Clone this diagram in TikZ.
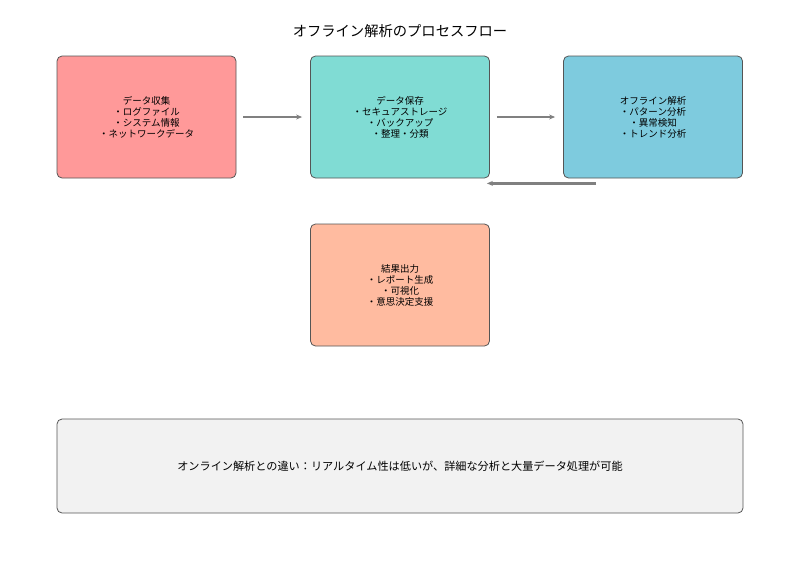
\documentclass[tikz,border=0pt]{standalone}
\usepackage{fontspec}
\setmainfont{Noto Sans CJK JP}
\usetikzlibrary{arrows.meta,calc}
\definecolor{cA}{HTML}{FF9999}
\definecolor{cB}{HTML}{80DCD4}
\definecolor{cC}{HTML}{7ECBDE}
\definecolor{cD}{HTML}{FFBBA0}
\definecolor{cE}{HTML}{F2F2F2}
\definecolor{edge}{HTML}{555555}
\definecolor{arr}{HTML}{808080}
\tikzset{
  stepbox/.style={draw=edge, line width=0.8pt, rounded corners=5pt, minimum width=179pt, minimum height=122pt, align=center, inner sep=0pt, font=\fontsize{9.5pt}{11pt}\selectfont, text=black},
  flow/.style={draw=arr, line width=2.2pt, -{Stealth[length=6pt,width=5pt]}},
}
\begin{document}
\begin{tikzpicture}[x=1pt,y=-1pt]
\useasboundingbox (0,0) rectangle (800,570);
\node (title) at (400,31) {\fontsize{14.3pt}{16pt}\selectfont オフライン解析のプロセスフロー};
\node[stepbox, fill=cA] (a) at (146.5,117) {データ収集\\・ログファイル\\・システム情報\\・ネットワークデータ};
\node[stepbox, fill=cB] (b) at (400,117) {データ保存\\・セキュアストレージ\\・バックアップ\\・整理・分類};
\node[stepbox, fill=cC] (c) at (653,117) {オフライン解析\\・パターン分析\\・異常検知\\・トレンド分析};
\node[stepbox, fill=cD] (d) at (400,285) {結果出力\\・レポート生成\\・可視化\\・意思決定支援};
\node[stepbox, fill=cE, minimum width=686pt, minimum height=94pt, font=\fontsize{11.15pt}{13pt}\selectfont] (e) at (400,466) {オンライン解析との違い：リアルタイム性は低いが、詳細な分析と大量データ処理が可能};
\draw[flow, shorten <=7pt, shorten >=8pt] (a.east) -- (b.west);
\draw[flow, shorten <=7pt, shorten >=8pt] (b.east) -- (c.west);
\coordinate (r1) at ($(c.south west)+(33,5)$);
\coordinate (r2) at ($(b.south east)+(-3,5)$);
\draw[flow] (r1) -- (r2);
\end{tikzpicture}
\end{document}
